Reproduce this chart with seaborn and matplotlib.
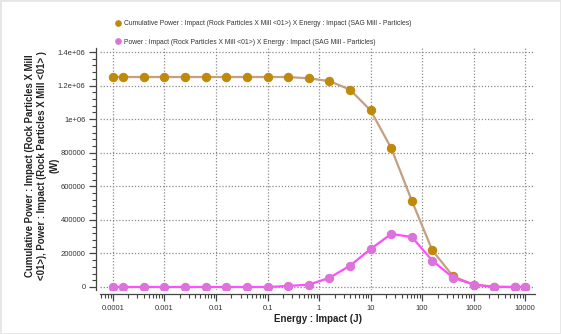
import numpy as np
import pandas as pd
import matplotlib
matplotlib.use("Agg")
import matplotlib.pyplot as plt
import seaborn as sns
from matplotlib.lines import Line2D
from matplotlib.ticker import FixedLocator, FixedFormatter, LogLocator, NullFormatter, MultipleLocator

energy = [0.0001, 0.000158, 0.000398, 0.001, 0.00251, 0.00631, 0.0158, 0.0398,
          0.1, 0.251, 0.631, 1.58, 3.98, 10, 25.1, 63.1, 158, 398, 1000, 2510, 6310, 10000]
cumulative_power = [1251000, 1251000, 1251000, 1251000, 1251000, 1251000, 1251000, 1251000,
                    1251000, 1251000, 1243000, 1227000, 1176000, 1052000, 828000, 514000,
                    218000, 64000, 14000, 2000, 0, 0]
power = [0, 0, 0, 0, 0, 0, 0, 0, 0, 6000, 14000, 54000, 127000, 226000, 316000, 298000,
         157000, 56000, 14000, 0, 0, 0]

series_names = ["Cumulative Power : Impact (Rock Particles X Mill <01>) X Energy : Impact (SAG Mill - Particles)",
                "Power : Impact (Rock Particles X Mill <01>) X Energy : Impact (SAG Mill - Particles)"]
x_ticks = [0.0001, 0.001, 0.01, 0.1, 1, 10, 100, 1000, 10000]
x_tick_labels = ["0.0001", "0.001", "0.01", "0.1", "1", "10", "100", "1000", "10000"]
y_ticks = [0, 200000, 400000, 600000, 800000, 1000000, 1200000, 1400000]
y_tick_labels = ["0", "200000", "400000", "600000", "800000", "1e+06", "1.2e+06", "1.4e+06"]
x_label = "Energy : Impact (J)"
y_label = "Cumulative Power : Impact (Rock Particles X Mill\n<01>), Power : Impact (Rock Particles X Mill <01> )\n(W)"

sns.set_theme(style="white")
plt.rcParams['font.family'] = ['Liberation Sans', 'DejaVu Sans']

df = pd.DataFrame({
    "energy": energy * 2,
    "value": cumulative_power + power,
    "series": [series_names[0]] * len(energy) + [series_names[1]] * len(energy),
})

line_colors = ["#C4A083", "#FF4DFF"]
marker_colors = ["#BF8A0C", "#DD72DC"]

fig = plt.figure(figsize=(5.61, 3.34), dpi=100)
W, H = 561, 334
ax = fig.add_axes([100 / W, 1 - 290 / H, 435 / W, 242 / H])

for i, name in enumerate(series_names):
    sub = df[df["series"] == name]
    sns.lineplot(data=sub, x="energy", y="value", ax=ax, color=line_colors[i], lw=1.6,
                 marker="o", markersize=6, markerfacecolor=marker_colors[i],
                 markeredgecolor=marker_colors[i], legend=False, zorder=3 + i)

ax.set_xscale("log")
ax.set_xlim(10 ** -4.25, 10 ** 4.19)
ax.set_ylim(-17900, 1423900)

ax.xaxis.set_major_locator(FixedLocator(x_ticks))
ax.xaxis.set_major_formatter(FixedFormatter(x_tick_labels))
ax.xaxis.set_minor_locator(LogLocator(base=10, subs=np.arange(2, 10), numticks=50))
ax.xaxis.set_minor_formatter(NullFormatter())
ax.yaxis.set_major_locator(FixedLocator(y_ticks))
ax.yaxis.set_major_formatter(FixedFormatter(y_tick_labels))
ax.yaxis.set_minor_locator(MultipleLocator(40000))

ax.grid(True, which="major", color="#8a8a8a", linestyle=(0, (1, 1.5)), linewidth=0.9)
for s in ["top", "right"]:
    ax.spines[s].set_visible(False)
ax.spines["left"].set_position(("outward", 3))
ax.spines["bottom"].set_position(("outward", 3))
for s in ["left", "bottom"]:
    ax.spines[s].set_color("#444444")
    ax.spines[s].set_linewidth(0.9)

ax.tick_params(which="major", direction="out", length=5, width=0.9, color="#444444",
               labelsize=5.5, labelcolor="#333333", bottom=True, left=True, pad=2.5)
ax.tick_params(which="minor", direction="out", length=3, width=0.8, color="#444444",
               bottom=True, left=True)

ax.set_xlabel(x_label, fontsize=7, fontweight="bold", color="#222222", labelpad=2)
ax.set_ylabel(y_label, fontsize=6.9, fontweight="bold", color="#222222",
              linespacing=1.32)
ax.yaxis.set_label_coords((60 - 100) / 435, 0.515)

handles = [Line2D([], [], linestyle="none", marker="o", markersize=3.8,
                  markerfacecolor=marker_colors[i], markeredgecolor=marker_colors[i])
           for i in range(2)]
leg = fig.legend(handles, series_names, loc="upper left", bbox_to_anchor=(113 / W, 1 - 17 / H),
                 frameon=False, fontsize=4.9, handlelength=0.6, handletextpad=0.45,
                 labelspacing=1.65, borderpad=0)
for t in leg.get_texts():
    t.set_color("#333333")

fig.patches.append(plt.Rectangle((0, 0), 1, 1, transform=fig.transFigure, fill=False,
                                 edgecolor="#e6e6e6", linewidth=2))

fig.savefig("out.png", dpi=100, facecolor="white")
